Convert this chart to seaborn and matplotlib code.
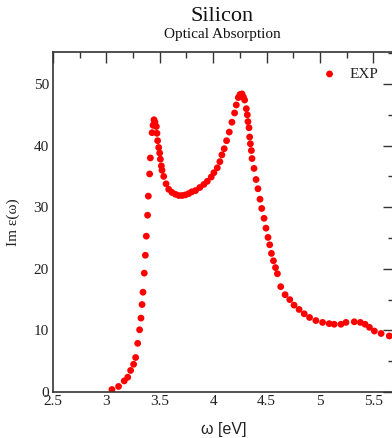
import numpy as np
import pandas as pd
import seaborn as sns
import matplotlib.pyplot as plt
from matplotlib.ticker import MultipleLocator

omega = [3.052, 3.114, 3.167, 3.200, 3.227, 3.255, 3.274, 3.293, 3.311, 3.324,
         3.334, 3.343, 3.355, 3.365, 3.374, 3.386, 3.393, 3.405, 3.412, 3.428,
         3.437, 3.446, 3.455, 3.468, 3.474, 3.480, 3.490, 3.499, 3.506, 3.515,
         3.521, 3.537, 3.559, 3.584, 3.615, 3.647, 3.678, 3.710, 3.740, 3.770,
         3.800, 3.835, 3.875, 3.913, 3.945, 3.982, 4.007, 4.039, 4.063, 4.082,
         4.104, 4.126, 4.151, 4.176, 4.201, 4.217, 4.236, 4.251, 4.270, 4.283,
         4.295, 4.311, 4.320, 4.326, 4.336, 4.342, 4.349, 4.358, 4.364, 4.383,
         4.402, 4.420, 4.439, 4.455, 4.477, 4.495, 4.514, 4.530, 4.546, 4.565,
         4.584, 4.602, 4.633, 4.674, 4.718, 4.758, 4.805, 4.853, 4.903, 4.962,
         5.025, 5.087, 5.134, 5.197, 5.244, 5.322, 5.379, 5.423, 5.464, 5.510,
         5.573, 5.650]
im_eps = [0.4, 0.9, 1.8, 2.4, 3.5, 4.5, 5.6, 7.9, 10.1, 12.0,
          14.2, 16.2, 19.3, 22.2, 25.3, 28.7, 31.8, 35.4, 38.0, 42.1,
          43.3, 44.2, 43.8, 43.1, 42.0, 40.8, 39.7, 38.8, 37.8, 36.7,
          36.0, 35.0, 33.8, 32.9, 32.4, 32.1, 31.9, 31.9, 32.0, 32.2,
          32.5, 32.7, 33.2, 33.7, 34.2, 34.9, 35.6, 36.4, 37.4, 38.5,
          39.5, 40.8, 42.2, 43.8, 45.3, 46.6, 47.8, 48.3, 48.4, 47.9,
          47.4, 46.0, 45.0, 43.9, 42.9, 41.4, 40.3, 39.2, 37.9, 36.3,
          34.5, 33.0, 31.3, 29.8, 28.2, 26.6, 25.1, 23.9, 22.5, 21.3,
          20.2, 19.2, 17.1, 15.8, 15.0, 14.1, 13.4, 12.7, 12.1, 11.6,
          11.3, 11.1, 11.0, 11.0, 11.3, 11.4, 11.3, 11.0, 10.5, 9.9,
          9.5, 9.1]

df = pd.DataFrame({"omega": omega, "im_eps": im_eps})

sns.set_theme(style="white")
plt.rcParams['font.family'] = ['Liberation Serif', 'DejaVu Serif']

fig = plt.figure(figsize=(3.92, 4.38), dpi=100)
ax = fig.add_axes([53 / 392, 46 / 438, 1 - 53 / 392 + 0.004, 340 / 438])

sns.scatterplot(data=df, x="omega", y="im_eps", color="#ff0000", edgecolor="none",
                s=24, label="EXP", ax=ax)

ax.set_xlim(2.5, 5.69)
ax.set_ylim(0, 55.2)
ax.xaxis.set_minor_locator(MultipleLocator(0.25))
ax.yaxis.set_major_locator(MultipleLocator(10))
ax.yaxis.set_minor_locator(MultipleLocator(5))
ax.set_xticks([2.5, 3, 3.5, 4, 4.5, 5, 5.5])
ax.set_xticklabels(["2.5", "3", "3.5", "4", "4.5", "5", "5.5"])
ax.tick_params(which="both", direction="in", top=True, right=True,
               color="#333333", labelsize=11, labelcolor="#222222")
ax.tick_params(which="major", length=8, width=1, pad=2)
ax.tick_params(which="minor", length=4, width=1)
ax.tick_params(axis="y", pad=3)
for sp in ax.spines.values():
    sp.set_color("#333333")
    sp.set_linewidth(1.2)

ax.set_xlabel("ω [eV]", fontsize=11.5, family=["Liberation Sans", "DejaVu Sans"],
              color="#222222", labelpad=10)
ax.set_ylabel("Im ε(ω)", fontsize=11, color="#222222", labelpad=10)

ax.legend(loc="upper right", frameon=False, fontsize=11, handletextpad=0.3,
          borderaxespad=0.6)

fig.text(0.567, 0.962, "Silicon", ha="center", va="center", fontsize=16, color="#111111")
fig.text(0.567, 0.921, "Optical Absorption", ha="center", va="center", fontsize=11,
         color="#111111")

fig.savefig("out.png", dpi=100)
